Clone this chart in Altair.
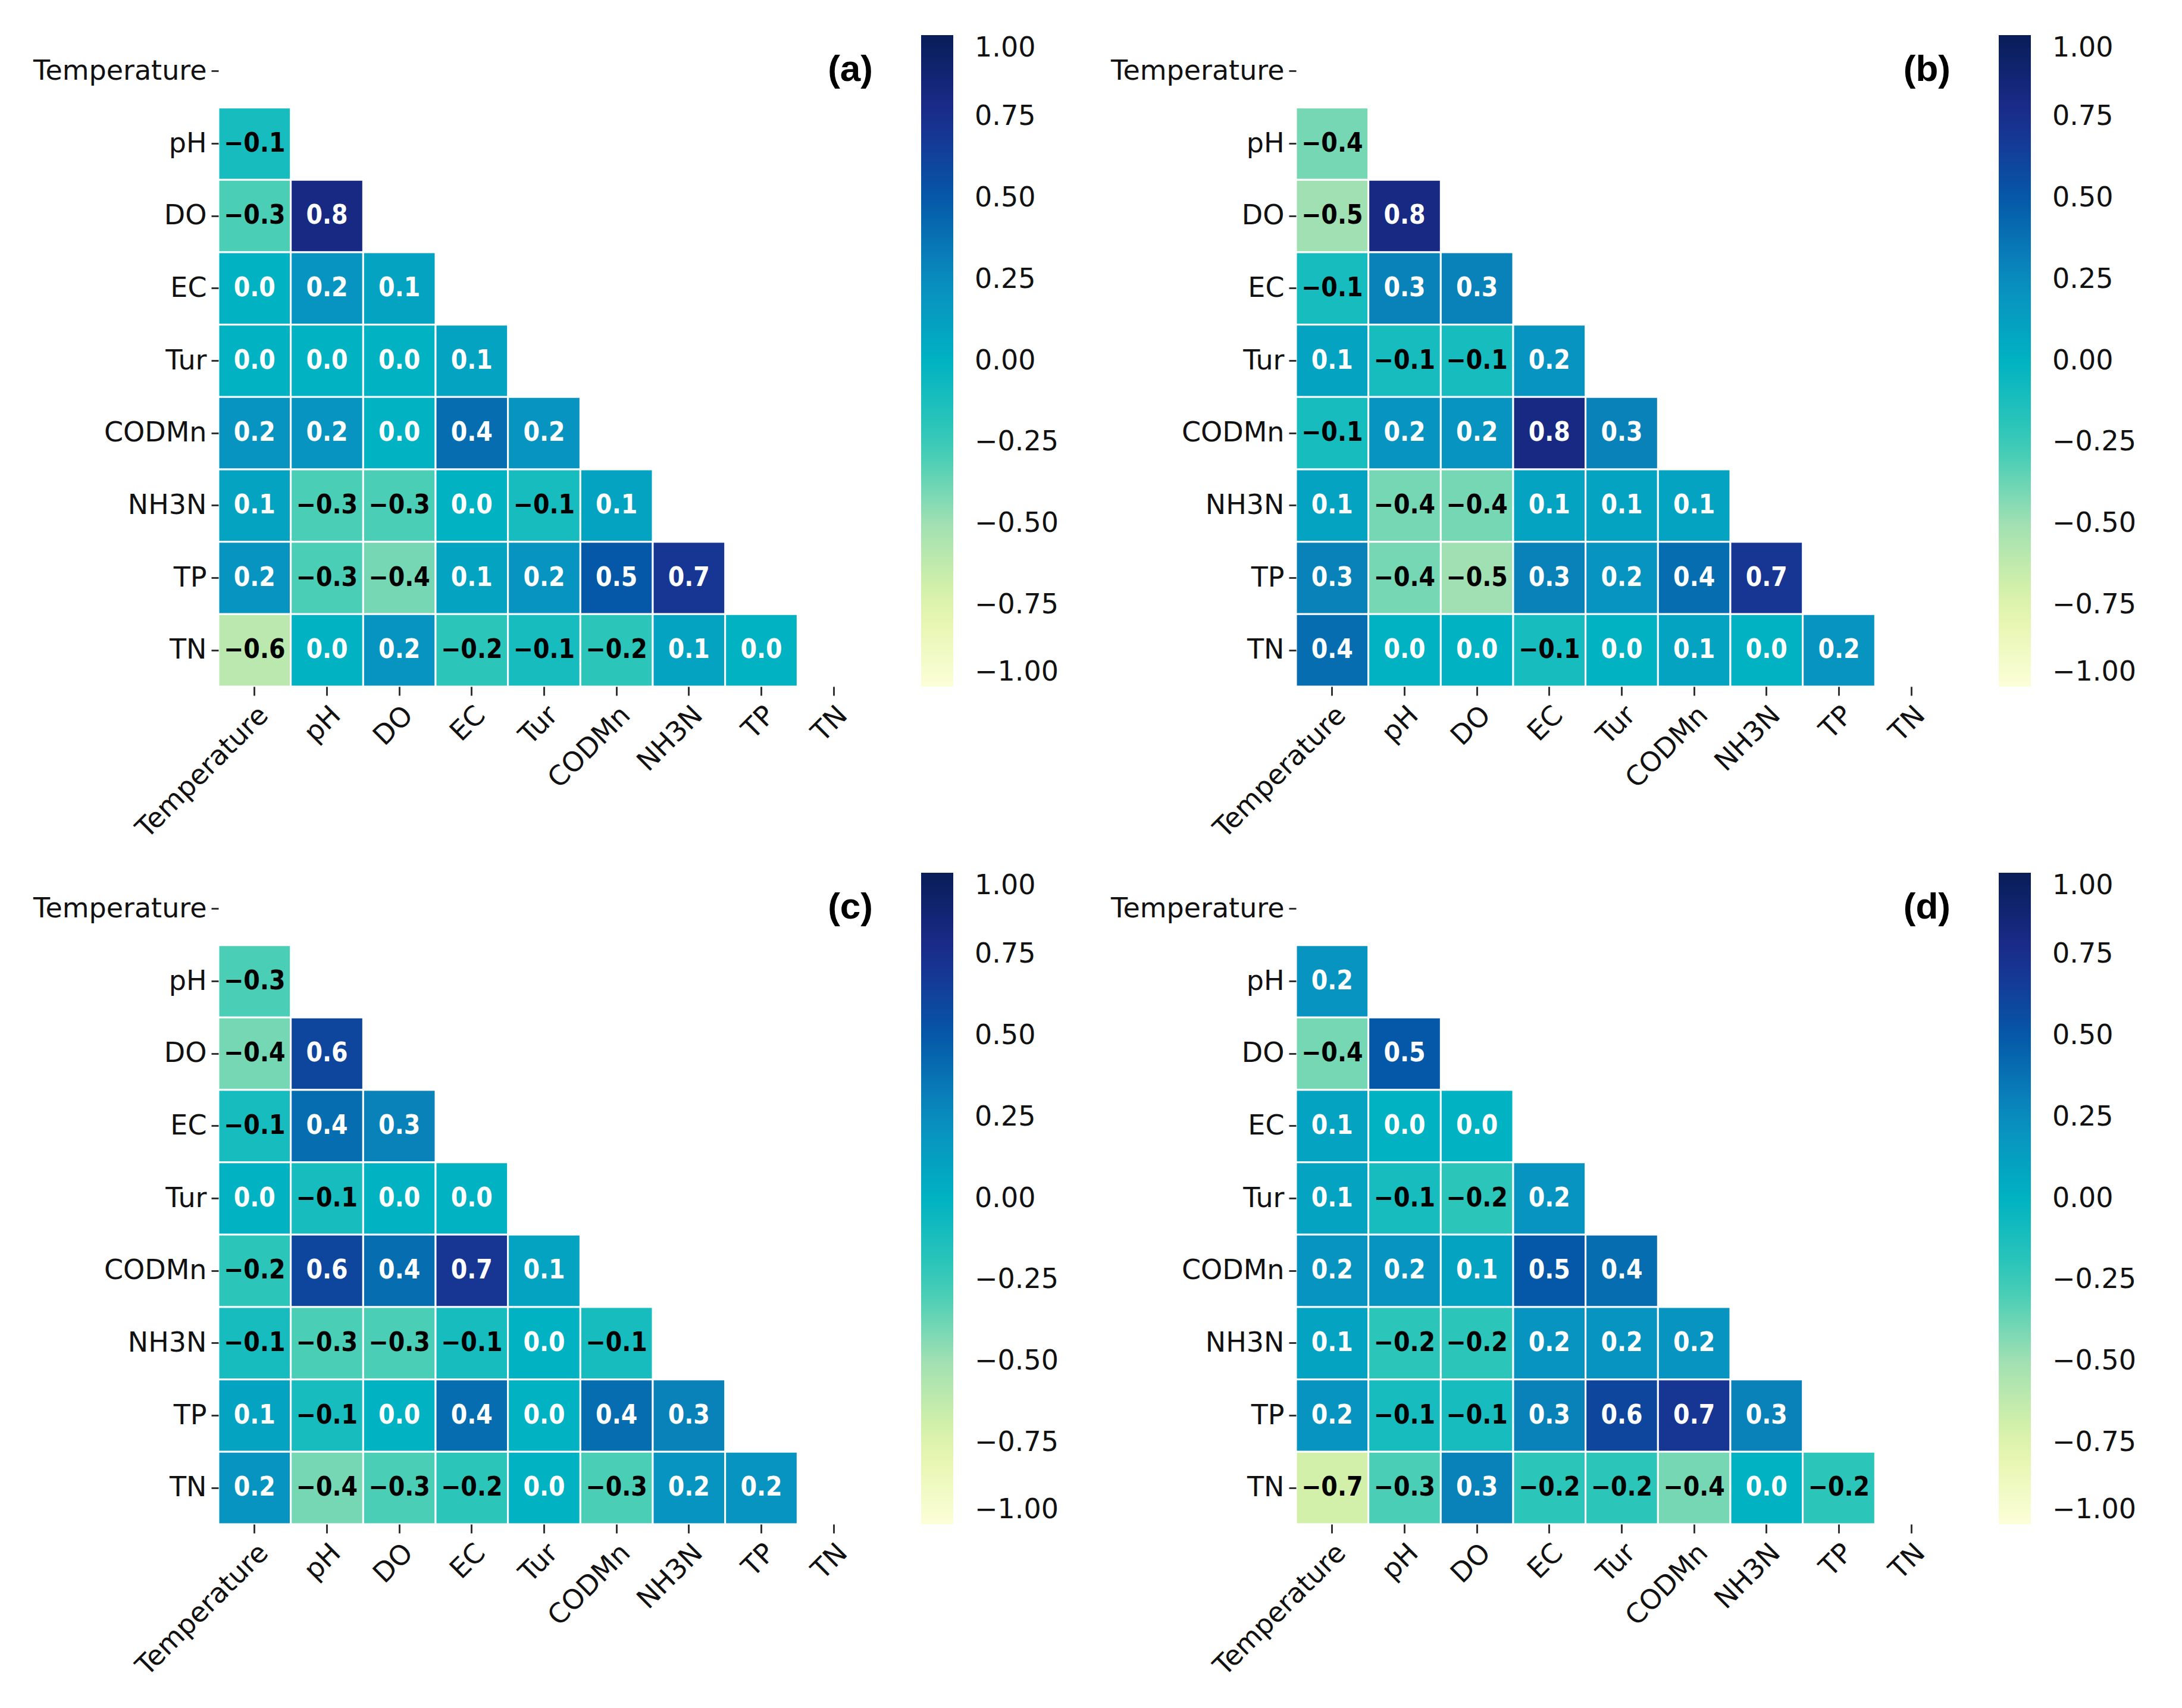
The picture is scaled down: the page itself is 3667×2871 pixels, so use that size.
import altair as alt
import pandas as pd

variables = ["Temperature", "pH", "DO", "EC", "Tur", "CODMn", "NH3N", "TP", "TN"]

# lower-triangle correlations, row by row (row = pH ... TN, columns from Temperature)
panel_a = [
    [-0.1],
    [-0.3, 0.8],
    [0.0, 0.2, 0.1],
    [0.0, 0.0, 0.0, 0.1],
    [0.2, 0.2, 0.0, 0.4, 0.2],
    [0.1, -0.3, -0.3, 0.0, -0.1, 0.1],
    [0.2, -0.3, -0.4, 0.1, 0.2, 0.5, 0.7],
    [-0.6, 0.0, 0.2, -0.2, -0.1, -0.2, 0.1, 0.0],
]
panel_b = [
    [-0.4],
    [-0.5, 0.8],
    [-0.1, 0.3, 0.3],
    [0.1, -0.1, -0.1, 0.2],
    [-0.1, 0.2, 0.2, 0.8, 0.3],
    [0.1, -0.4, -0.4, 0.1, 0.1, 0.1],
    [0.3, -0.4, -0.5, 0.3, 0.2, 0.4, 0.7],
    [0.4, 0.0, 0.0, -0.1, 0.0, 0.1, 0.0, 0.2],
]
panel_c = [
    [-0.3],
    [-0.4, 0.6],
    [-0.1, 0.4, 0.3],
    [0.0, -0.1, 0.0, 0.0],
    [-0.2, 0.6, 0.4, 0.7, 0.1],
    [-0.1, -0.3, -0.3, -0.1, 0.0, -0.1],
    [0.1, -0.1, 0.0, 0.4, 0.0, 0.4, 0.3],
    [0.2, -0.4, -0.3, -0.2, 0.0, -0.3, 0.2, 0.2],
]
panel_d = [
    [0.2],
    [-0.4, 0.5],
    [0.1, 0.0, 0.0],
    [0.1, -0.1, -0.2, 0.2],
    [0.2, 0.2, 0.1, 0.5, 0.4],
    [0.1, -0.2, -0.2, 0.2, 0.2, 0.2],
    [0.2, -0.1, -0.1, 0.3, 0.6, 0.7, 0.3],
    [-0.7, -0.3, 0.3, -0.2, -0.2, -0.4, 0.0, -0.2],
]
panel_letters = ["(a)", "(b)", "(c)", "(d)"]
legend_ticks = [-1.0, -0.75, -0.5, -0.25, 0.0, 0.25, 0.5, 0.75, 1.0]

# colour ramp (YlGnBu-like, as it appears in the figure)
ramp_stops = [-1.0, -0.75, -0.5, -0.25, 0.0, 0.25, 0.5, 0.75, 1.0]
ramp_colors = ["#fcfed8", "#e0f4a8", "#a0e0b2", "#36cab7", "#00b2c2",
               "#0a8cbf", "#0558a8", "#1c2c8e", "#081d58"]

W = 1095
H = 1095
AX_FONT = "DejaVu Sans"
ANN_FONT = "Liberation Sans Narrow, DejaVu Sans Condensed, DejaVu Sans"


def make_panel(vals, letter):
    recs = []
    for i, rowvals in enumerate(vals, start=1):
        for j, v in enumerate(rowvals):
            recs.append({
                "row": variables[i],
                "col": variables[j],
                "value": v,
                "label": f"{v:.1f}".replace("-", "\u2212"),
            })
    df = pd.DataFrame(recs)
    x = alt.X("col:N", scale=alt.Scale(domain=variables),
              axis=alt.Axis(title=None, labelAngle=-45, labelAlign="right",
                            labelBaseline="top", labelFontSize=46, labelFont=AX_FONT,
                            labelColor="#111", tickSize=15, tickWidth=3, tickColor="#333",
                            labelPadding=10, domain=False, labelOverlap=False,
                            labelLimit=1000))
    y = alt.Y("row:N", scale=alt.Scale(domain=variables),
              axis=alt.Axis(title=None, labelFontSize=46, labelFont=AX_FONT,
                            labelColor="#111", tickSize=12, tickWidth=3, tickColor="#333",
                            labelPadding=8, domain=False, minExtent=354, labelOverlap=False,
                            labelLimit=1000))
    base = alt.Chart(df)
    rect = base.mark_rect(stroke="white", strokeWidth=3).encode(
        x=x, y=y,
        color=alt.Color("value:Q",
                        scale=alt.Scale(domain=ramp_stops, range=ramp_colors,
                                        interpolate="rgb"),
                        legend=alt.Legend(orient="none", legendX=W + 86, legendY=0,
                                          direction="vertical", title=None,
                                          gradientLength=H, gradientThickness=54,
                                          gradientStrokeWidth=0,
                                          values=legend_ticks, format=".2f",
                                          labelFontSize=46, labelFont=AX_FONT,
                                          labelColor="#111", labelOffset=36,
                                          labelOverlap=False)),
    )
    text = base.mark_text(font=ANN_FONT, fontSize=44, fontWeight="bold").encode(
        x=x, y=y, text="label:N",
        color=alt.condition("datum.value < 0", alt.value("black"), alt.value("white")),
    )
    lab = alt.Chart(pd.DataFrame({"t": [letter]})).mark_text(
        align="right", baseline="middle", font="Liberation Sans", fontSize=62,
        fontWeight="bold", color="black"
    ).encode(x=alt.value(W + 5), y=alt.value(58), text="t:N")
    return alt.layer(rect, text, lab).properties(width=W, height=H)


pa = make_panel(panel_a, panel_letters[0])
pb = make_panel(panel_b, panel_letters[1])
pc = make_panel(panel_c, panel_letters[2])
pd_ = make_panel(panel_d, panel_letters[3])

top = alt.hconcat(pa, pb, spacing=45).resolve_scale(color="independent")
bottom = alt.hconcat(pc, pd_, spacing=45).resolve_scale(color="independent")
chart = alt.vconcat(top, bottom, spacing=50).resolve_scale(color="independent").properties(
    padding={"left": 5, "top": 51, "right": 5, "bottom": 5}
).configure(background="white").configure_view(stroke="transparent", strokeWidth=0)

chart.save("out.html", embed_options={"renderer": "svg", "actions": False})
